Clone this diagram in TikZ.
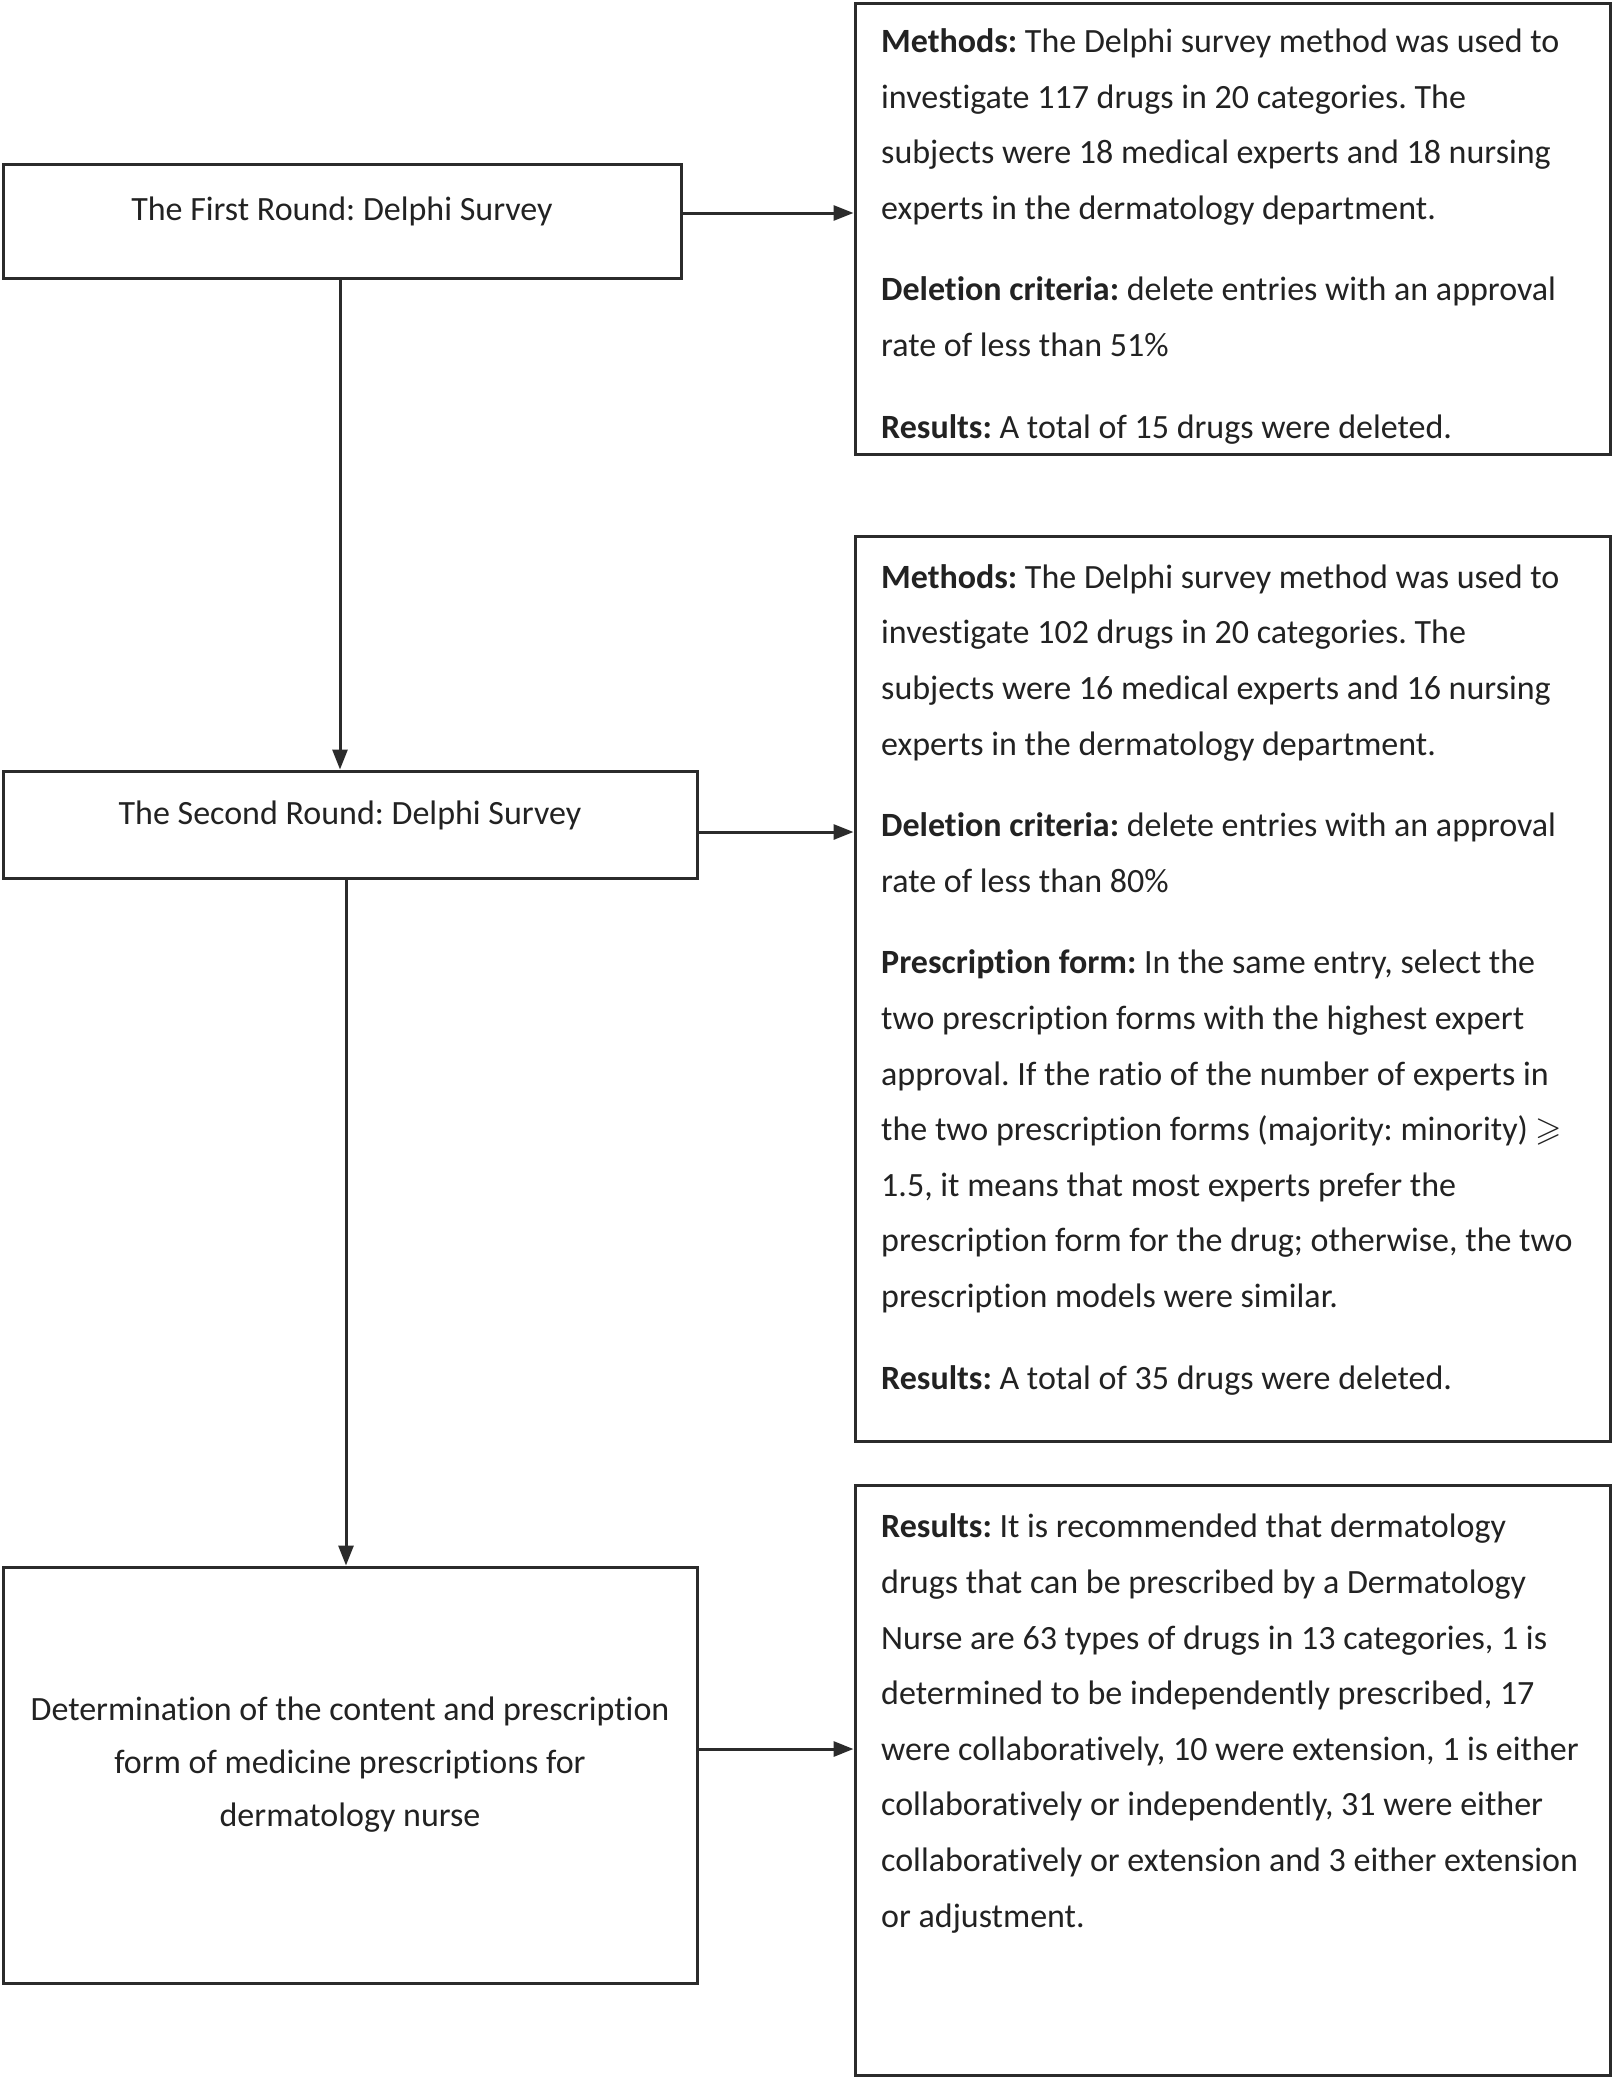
\documentclass[tikz,border=0pt]{standalone}
\usepackage{fontspec}
\setmainfont{Carlito}[Ligatures=NoCommon]
\usepackage{amssymb}
\usetikzlibrary{arrows.meta}
\definecolor{boxline}{HTML}{2B2B2B}
\definecolor{boxtext}{HTML}{222222}
\tikzset{
	roundbox/.style = {draw=boxline, line width=3pt, inner sep=0pt},
	flowarrow/.style = {draw=boxline, line width=3pt, -{Triangle[length=20pt,width=15pt]}},
	roundlabel/.style = {align=center, inner sep=0pt, text=boxtext, font=\fontsize{34}{53}\selectfont},
	infotext/.style = {anchor=base west, align=left, inner sep=0pt, text=boxtext, font=\fontsize{34}{55.6}\selectfont}
}
\newcommand{\hd}[1]{\textbf{#1}}
\newcommand{\parskipline}{\\[26pt]}
\frenchspacing

\begin{document}
\begin{tikzpicture}[x=1pt,y=-1pt]
	\useasboundingbox (0,0) rectangle (1613,2077);

	\node[roundbox, minimum width=678pt, minimum height=114pt] (first) at (342,221) {};
	\node[roundbox, minimum width=694pt, minimum height=107pt] (second) at (350,824.5) {};
	\node[roundbox, minimum width=694pt, minimum height=416pt] (final) at (350,1775) {};

	\node[roundbox, minimum width=755pt, minimum height=451pt] (firstres) at (1232.5,228.5) {};
	\node[roundbox, minimum width=755pt, minimum height=905pt] (secondres) at (1232.5,988.5) {};
	\node[roundbox, minimum width=755pt, minimum height=590pt] (finalres) at (1232.5,1780) {};

	\node[roundlabel] (firstlbl) at (342,211) {The First Round: Delphi Survey};
	\node[roundlabel] (secondlbl) at (350,815) {The Second Round: Delphi Survey};
	\node[roundlabel] (finallbl) at (350,1765) {Determination of the content and prescription\\form of medicine prescriptions for\\dermatology nurse};

	\node[infotext] (firsttxt) at (881,438) {\hd{Methods:} The Delphi survey method was used to\\
		investigate 117 drugs in 20 categories. The\\
		subjects were 18 medical experts and 18 nursing\\
		experts in the dermatology department.\parskipline
		\hd{Deletion criteria:} delete entries with an approval\\
		rate of less than 51\%\parskipline
		\hd{Results:} A total of 15 drugs were deleted.};

	\node[infotext] (secondtxt) at (881,1389) {\hd{Methods:} The Delphi survey method was used to\\
		investigate 102 drugs in 20 categories. The\\
		subjects were 16 medical experts and 16 nursing\\
		experts in the dermatology department.\parskipline
		\hd{Deletion criteria:} delete entries with an approval\\
		rate of less than 80\%\parskipline
		\hd{Prescription form:} In the same entry, select the\\
		two prescription forms with the highest expert\\
		approval. If the ratio of the number of experts in\\
		the two prescription forms (majority: minority) $\geqslant$\\
		1.5, it means that most experts prefer the\\
		prescription form for the drug; otherwise, the two\\
		prescription models were similar.\parskipline
		\hd{Results:} A total of 35 drugs were deleted.};

	\begin{scope}
		\clip (855,1485) rectangle (1578,2075);
		\node[infotext] (finaltxt) at (881,1927) {\hd{Results:} It is recommended that dermatology\\
			drugs that can be prescribed by a Dermatology\\
			Nurse are 63 types of drugs in 13 categories, 1 is\\
			determined to be independently prescribed, 17\\
			were collaboratively, 10 were extension, 1 is either\\
			collaboratively or independently, 31 were either\\
			collaboratively or extension and 3 either extension\\
			or adjustment.};
	\end{scope}

	\coordinate (firstout) at ([yshift=8pt]first.east);
	\coordinate (secondout) at ([yshift=-7.5pt]second.east);
	\coordinate (finalout) at ([yshift=26pt]final.east);
	\coordinate (seconddown) at ([xshift=-4pt]second.south);

	\draw[flowarrow] (firstout) -- (firstout -| firstres.west);
	\draw[flowarrow] (secondout) -- (secondout -| secondres.west);
	\draw[flowarrow] (finalout) -- (finalout -| finalres.west);
	\draw[flowarrow] ([xshift=-2pt]first.south) -- ([xshift=-2pt]first.south |- second.north);
	\draw[flowarrow] (seconddown) -- (seconddown |- final.north);
\end{tikzpicture}
\end{document}
